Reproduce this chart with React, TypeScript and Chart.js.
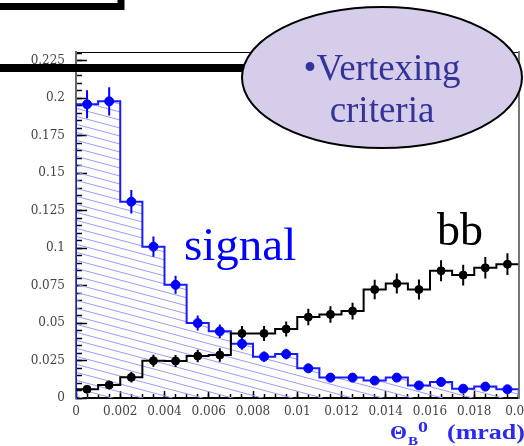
import React, { useEffect, useRef } from "react";
import { Chart, registerables } from "chart.js";

Chart.register(...registerables);

// ---- data ----
const binLeftEdges = [
  0, 0.001, 0.002, 0.003, 0.004, 0.005, 0.006, 0.007, 0.008, 0.009,
  0.01, 0.011, 0.012, 0.013, 0.014, 0.015, 0.016, 0.017, 0.018, 0.019,
];
const binWidth = 0.001;
const xMin = 0;
const xMax = 0.02;
const yMin = 0;
const yMax = 0.2309;

const signalValues = [
  0.196, 0.198, 0.131, 0.101, 0.0755, 0.05, 0.0445, 0.0362, 0.0276, 0.0293,
  0.0198, 0.0136, 0.0136, 0.0116, 0.0136, 0.0084, 0.0107, 0.0062, 0.0076, 0.0058,
];
const signalErrors = [
  0.0093, 0.0094, 0.0078, 0.0067, 0.006, 0.005, 0.0045, 0.004, 0.0035, 0.0035,
  0.003, 0.0025, 0.0025, 0.0022, 0.0025, 0.002, 0.002, 0.0018, 0.0018, 0.0018,
];
const bbValues = [
  0.0058, 0.0087, 0.0138, 0.0249, 0.0247, 0.028, 0.0287, 0.0431, 0.0431, 0.046,
  0.054, 0.0558, 0.058, 0.0724, 0.0764, 0.0724, 0.0849, 0.082, 0.0869, 0.0893,
];
const bbErrors = [
  0.002, 0.0028, 0.0035, 0.004, 0.004, 0.0042, 0.0045, 0.005, 0.005, 0.005,
  0.0055, 0.0055, 0.0056, 0.0065, 0.0067, 0.0067, 0.007, 0.007, 0.0072, 0.0073,
];

const xMajorTicks = [0, 0.002, 0.004, 0.006, 0.008, 0.01, 0.012, 0.014, 0.016, 0.018, 0.02];
const xTickLabels = ["0", "0.002", "0.004", "0.006", "0.008", "0.01", "0.012", "0.014", "0.016", "0.018", "0.02"];
const xMinorStep = 0.0005;
const yMajorTicks = [0, 0.025, 0.05, 0.075, 0.1, 0.125, 0.15, 0.175, 0.2, 0.225];
const yTickLabels = ["0", "0.025", "0.05", "0.075", "0.1", "0.125", "0.15", "0.175", "0.2", "0.225"];
const yMinorStep = 0.005;

// ---- helpers building library data from the arrays ----
const centers = binLeftEdges.map((e) => e + binWidth / 2);
const stepData = (vals: number[], fromZero: boolean) => {
  const pts: { x: number; y: number }[] = [];
  if (fromZero) pts.push({ x: binLeftEdges[0], y: 0 });
  vals.forEach((v, i) => pts.push({ x: binLeftEdges[i], y: v }));
  pts.push({ x: xMax, y: vals[vals.length - 1] });
  return pts;
};
const errorData = (vals: number[], errs: number[]) =>
  vals.flatMap((v, i) => [
    { x: centers[i], y: v - errs[i] },
    { x: centers[i], y: v + errs[i] },
    { x: centers[i], y: null as any },
  ]);
const pointData = (vals: number[]) => vals.map((v, i) => ({ x: centers[i], y: v }));

const TICK_FONT = { family: "'DejaVu Serif', serif", size: 12 };
const TITLE_BLUE = "#2a2aee";

export default function App() {
  const ref = useRef<HTMLCanvasElement | null>(null);

  useEffect(() => {
    const canvas = ref.current!;
    const ctx = canvas.getContext("2d")!;

    // hatch pattern for the signal histogram
    const pc = document.createElement("canvas");
    pc.width = 30;
    pc.height = 8;
    const p = pc.getContext("2d")!;
    p.strokeStyle = "#9c9cff";
    p.lineWidth = 1;
    for (const dy of [-8, 0, 8]) {
      p.beginPath();
      p.moveTo(0, dy);
      p.lineTo(30, dy + 8);
      p.stroke();
    }
    const hatch = ctx.createPattern(pc, "repeat")!;

    const chart = new Chart(canvas, {
      type: "line",
      data: {
        datasets: [
          {
            label: "signal points",
            data: pointData(signalValues),
            showLine: false,
            pointRadius: 4.5,
            pointBackgroundColor: "#0000ff",
            pointBorderColor: "#0000ff",
            xAxisID: "x",
            yAxisID: "y",
          },
          {
            label: "bb points",
            data: pointData(bbValues),
            showLine: false,
            pointRadius: 4,
            pointBackgroundColor: "#000",
            pointBorderColor: "#000",
            xAxisID: "x",
            yAxisID: "y",
          },
          {
            label: "signal errors",
            data: errorData(signalValues, signalErrors),
            borderColor: "#0000ff",
            borderWidth: 2,
            pointRadius: 0,
            spanGaps: false,
            xAxisID: "x",
            yAxisID: "y",
          },
          {
            label: "bb errors",
            data: errorData(bbValues, bbErrors),
            borderColor: "#000",
            borderWidth: 2,
            pointRadius: 0,
            spanGaps: false,
            xAxisID: "x",
            yAxisID: "y",
          },
          {
            label: "bb",
            data: stepData(bbValues, false),
            stepped: "before",
            borderColor: "#000",
            borderWidth: 2,
            pointRadius: 0,
            fill: false,
            xAxisID: "x",
            yAxisID: "y",
          },
          {
            label: "signal",
            data: stepData(signalValues, true),
            stepped: "before",
            borderColor: "#1a1aff",
            borderWidth: 2,
            pointRadius: 0,
            fill: "origin",
            backgroundColor: hatch,
            xAxisID: "x",
            yAxisID: "y",
          },
        ],
      },
      options: {
        animation: false,
        responsive: false,
        devicePixelRatio: 1,
        layout: { padding: { top: 52, right: 4, left: 0, bottom: 0 } },
        plugins: { legend: { display: false }, tooltip: { enabled: false } },
        scales: {
          x: {
            type: "linear",
            axis: "x",
            position: "bottom",
            weight: 1,
            min: xMin,
            max: xMax,
            afterBuildTicks: (s: any) => {
              s.ticks = xMajorTicks.map((v) => ({ value: v }));
            },
            afterFit: (s: any) => {
              s.height = 48;
              s.paddingLeft = 0;
              s.paddingRight = 0;
            },
            ticks: {
              callback: (_v: any, i: number) => xTickLabels[i],
              font: TICK_FONT,
              color: "#444",
              padding: 14,
              maxRotation: 0,
              autoSkip: false,
            },
            grid: { drawOnChartArea: false, tickLength: -7, tickColor: "#000", tickWidth: 1.5 },
            border: { display: true, color: "#000", width: 2 },
          },
          xMinor: {
            type: "linear",
            axis: "x",
            position: "bottom",
            weight: 0,
            min: xMin,
            max: xMax,
            ticks: { display: false, stepSize: xMinorStep, includeBounds: false, autoSkip: false },
            afterFit: (s: any) => {
              s.height = 0;
              s.paddingLeft = 0;
              s.paddingRight = 0;
            },
            grid: { drawOnChartArea: false, tickLength: -4, tickColor: "#000", tickWidth: 1.5 },
            border: { display: false },
          },
          xTop: {
            type: "linear",
            axis: "x",
            position: "top",
            min: xMin,
            max: xMax,
            ticks: { display: false },
            afterFit: (s: any) => {
              s.height = 0;
              s.paddingLeft = 0;
              s.paddingRight = 0;
            },
            grid: { drawOnChartArea: false, drawTicks: false },
            border: { display: true, color: "#000", width: 1 },
          },
          y: {
            type: "linear",
            axis: "y",
            position: "left",
            weight: 1,
            min: yMin,
            max: yMax,
            afterBuildTicks: (s: any) => {
              s.ticks = yMajorTicks.map((v) => ({ value: v }));
            },
            afterFit: (s: any) => {
              s.width = 76;
              s.paddingTop = 0;
              s.paddingBottom = 0;
            },
            ticks: {
              callback: (_v: any, i: number) => yTickLabels[i],
              font: TICK_FONT,
              color: "#444",
              padding: 22,
              autoSkip: false,
            },
            grid: { drawOnChartArea: false, tickLength: -11, tickColor: "#000", tickWidth: 1.5 },
            border: { display: true, color: "#666", width: 2 },
          },
          yMinor: {
            type: "linear",
            axis: "y",
            position: "left",
            weight: 0,
            min: yMin,
            max: yMax,
            ticks: { display: false, stepSize: yMinorStep, includeBounds: false, autoSkip: false },
            afterFit: (s: any) => {
              s.width = 0;
              s.paddingTop = 0;
              s.paddingBottom = 0;
            },
            grid: { drawOnChartArea: false, tickLength: -6, tickColor: "#000", tickWidth: 1.5 },
            border: { display: false },
          },
          yRight: {
            type: "linear",
            axis: "y",
            position: "right",
            min: yMin,
            max: yMax,
            ticks: { display: false },
            afterFit: (s: any) => {
              s.width = 0;
              s.paddingTop = 0;
              s.paddingBottom = 0;
            },
            grid: { drawOnChartArea: false, drawTicks: false },
            border: { display: true, color: "#777", width: 2 },
          },
        },
      } as any,
    });
    return () => chart.destroy();
  }, []);

  return (
    <div
      style={{
        position: "fixed",
        left: 0,
        top: 0,
        width: 524,
        height: 446,
        background: "#fff",
        overflow: "hidden",
      }}
    >
      <canvas ref={ref} width={524} height={446} style={{ position: "absolute", left: 0, top: 0 }} />
      <svg
        width={524}
        height={446}
        style={{ position: "absolute", left: 0, top: 0, pointerEvents: "none" }}
      >
        <rect x={-20} y={-20} width={141} height={26.5} fill="none" stroke="#000" strokeWidth={7} />
        <rect x={0} y={64} width={248} height={8} fill="#000" />
        <ellipse cx={382} cy={77.5} rx={140} ry={70.5} fill="#d5cde9" stroke="#000" strokeWidth={2} />
        <text x={382} y={80} textAnchor="middle" fontFamily="'Liberation Serif', serif" fontSize={37} fill="#333399">
          •Vertexing
        </text>
        <text x={382} y={122} textAnchor="middle" fontFamily="'Liberation Serif', serif" fontSize={37} fill="#333399">
          criteria
        </text>
        <text x={184} y={260} fontFamily="'Liberation Serif', serif" fontSize={47} fill="#0000ff">
          signal
        </text>
        <text x={437} y={245} fontFamily="'Liberation Serif', serif" fontSize={46} fill="#000">
          bb
        </text>
        <text x={390} y={439} fontFamily="'Liberation Serif', serif" fontWeight="bold" fontSize={19} fill={TITLE_BLUE} textLength={17} lengthAdjust="spacingAndGlyphs">
          Θ
        </text>
        <text x={408} y={445} fontFamily="'Liberation Serif', serif" fontWeight="bold" fontSize={12} fill={TITLE_BLUE} textLength={10} lengthAdjust="spacingAndGlyphs">
          B
        </text>
        <text x={418} y={432} fontFamily="'Liberation Serif', serif" fontWeight="bold" fontSize={14} fill={TITLE_BLUE} textLength={10} lengthAdjust="spacingAndGlyphs">
          0
        </text>
        <text x={447} y={439} fontFamily="'Liberation Serif', serif" fontWeight="bold" fontSize={20} fill={TITLE_BLUE} textLength={78} lengthAdjust="spacingAndGlyphs">
          (mrad)
        </text>
      </svg>
    </div>
  );
}
